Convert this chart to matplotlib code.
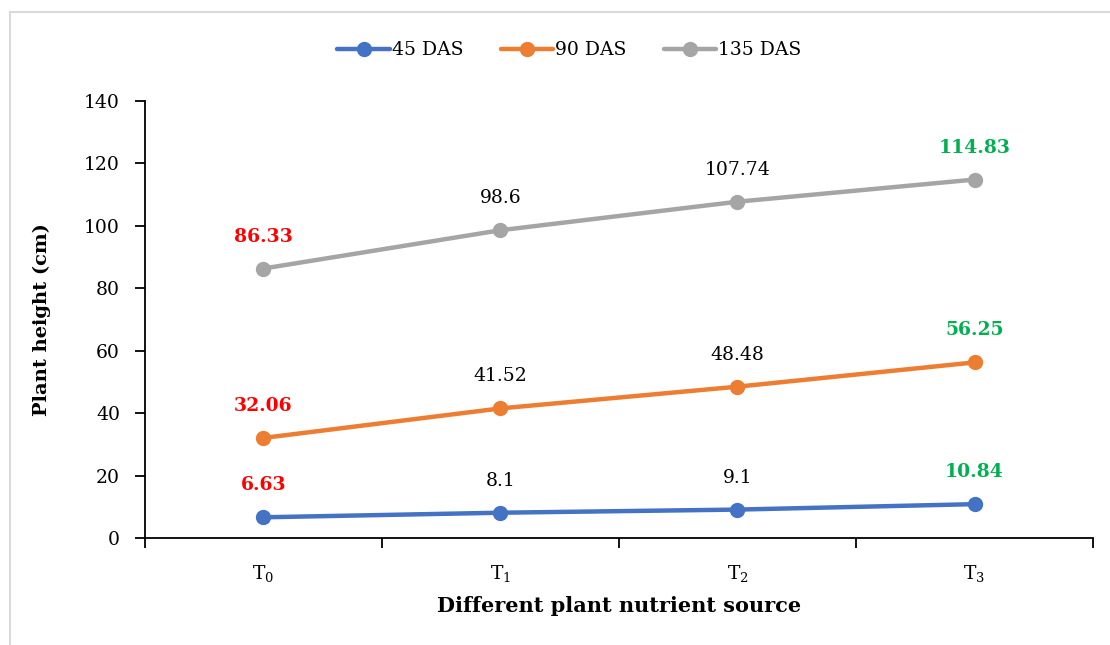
import matplotlib
matplotlib.use("Agg")
import matplotlib.pyplot as plt
from matplotlib.lines import Line2D

plt.rcParams['font.family'] = ['DejaVu Serif']
plt.rcParams['mathtext.fontset'] = 'custom'
plt.rcParams['mathtext.rm'] = 'DejaVu Serif'
plt.rcParams['mathtext.it'] = 'DejaVu Serif'

# data
treatments = [r'T$_0$', r'T$_1$', r'T$_2$', r'T$_3$']
das45 = [6.63, 8.1, 9.1, 10.84]
das90 = [32.06, 41.52, 48.48, 56.25]
das135 = [86.33, 98.6, 107.74, 114.83]
series_names = ['45 DAS', '90 DAS', '135 DAS']
series_colors = ['#4472C4', '#ED7D31', '#A5A5A5']

fig = plt.figure(figsize=(11.1, 6.45), dpi=100)
ax = fig.add_axes([0.1306, 0.1659, 0.8541, 0.6775])

x = list(range(len(treatments)))
for vals, name, col in zip([das45, das90, das135], series_names, series_colors):
    ax.plot(x, vals, color=col, lw=3.2, marker='o', ms=10, label=name,
            solid_capstyle='round')
    for i, v in enumerate(vals):
        txt = str(v)
        if i == 0:
            c, w = '#FF0000', 'bold'
        elif i == len(vals) - 1:
            c, w = '#00B050', 'bold'
        else:
            c, w = 'black', 'normal'
        ax.annotate(txt, (i, v), xytext=(0, 23), textcoords='offset points',
                    ha='center', va='center', fontsize=13.5, color=c,
                    fontweight=w)

ax.set_xlim(-0.5, 3.5)
ax.set_ylim(0, 140)
ax.set_yticks(range(0, 141, 20))
ax.set_xticks(x)
ax.set_xticklabels(treatments, fontsize=13.5)
ax.tick_params(axis='x', length=0, pad=18)
ax.set_xticks([-0.5, 0.5, 1.5, 2.5, 3.5], minor=True)
ax.tick_params(axis='x', which='minor', length=7, width=1.3, direction='out')
ax.tick_params(axis='y', length=7, width=1.3, labelsize=13.5, pad=11)
for s in ['top', 'right']:
    ax.spines[s].set_visible(False)
for s in ['left', 'bottom']:
    ax.spines[s].set_linewidth(1.3)

ax.set_ylabel('Plant height (cm)', fontsize=14, fontweight='bold', labelpad=24)
ax.set_xlabel('Different plant nutrient source', fontsize=15,
              fontweight='bold', labelpad=9)

fig.legend(loc='center', bbox_to_anchor=(0.513, 0.922), ncol=3, frameon=False,
           fontsize=13.5, handlelength=2.8, columnspacing=2.0, handletextpad=0.1)

# chart border (light gray)
fig.add_artist(Line2D([10 / 1110, 10 / 1110], [0, 1 - 12 / 645],
                      transform=fig.transFigure, color='#D9D9D9', lw=1.5))
fig.add_artist(Line2D([10 / 1110, 1], [1 - 12 / 645, 1 - 12 / 645],
                      transform=fig.transFigure, color='#D9D9D9', lw=1.5))

fig.savefig('out.png', dpi=100)
